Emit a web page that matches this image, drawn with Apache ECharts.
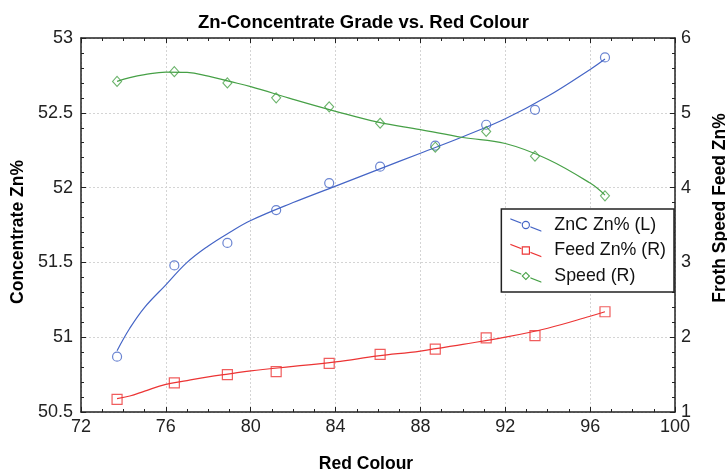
<!DOCTYPE html>
<html>
<head>
<meta charset="utf-8">
<script src="https://cdn.jsdelivr.net/npm/echarts@6/dist/echarts.min.js"></script>
<style>html,body{margin:0;padding:0;background:#fff}#c{width:727px;height:473px}</style>
</head>
<body>
<div id="c"></div>
<script>
// Measured points
const redColour = [73.7, 76.4, 78.9, 81.2, 83.7, 86.1, 88.7, 91.1, 93.4, 96.7];
const zncZn = [50.87, 51.48, 51.63, 51.85, 52.03, 52.14, 52.28, 52.42, 52.52, 52.87];
const feedZn = [1.17, 1.39, 1.50, 1.54, 1.65, 1.77, 1.84, 1.99, 2.02, 2.34];
const speed = [5.42, 5.55, 5.40, 5.20, 5.08, 4.86, 4.54, 4.75, 4.42, 3.89];
// Fitted curves
const fitX = [73.7, 74.3, 75, 76, 77, 78, 79, 80, 82, 84, 86, 88, 90, 92, 94, 96, 96.7];
const zncFit = [50.91, 51.06, 51.20, 51.35, 51.50, 51.61, 51.70, 51.78, 51.90, 52.01, 52.12, 52.23, 52.34, 52.46, 52.61, 52.79, 52.86];
const feedFit = [1.18, 1.214, 1.28, 1.37, 1.42, 1.47, 1.51, 1.55, 1.61, 1.67, 1.75, 1.815, 1.905, 2.00, 2.12, 2.28, 2.34];
const speedFit = [5.42, 5.47, 5.51, 5.545, 5.54, 5.49, 5.42, 5.35, 5.18, 5.02, 4.875, 4.775, 4.67, 4.59, 4.38, 4.06, 3.90];
const seriesNames = ['ZnC Zn% (L)', 'Feed Zn% (R)', 'Speed (R)'];
const chartTitle = 'Zn-Concentrate Grade vs. Red Colour';
const xName = 'Red Colour';
const yLeftName = 'Concentrate Zn%';
const yRightName = 'Froth Speed Feed Zn%';

const BLUE = '#4565c6', RED = '#ec3434', GREEN = '#46a046';
const FONT = '"Liberation Sans", Arial, sans-serif';

function pairs(xs, ys) { return xs.map((x, i) => [x, ys[i]]); }

const band = 'M0,0 L10.6,4.24 L10.6,5.44 L0,1.2 Z M19.4,7.76 L30,12 L30,13.2 L19.4,8.96 Z ';
const iconCircle = 'path://' + band + 'M19,6.6 A4,4 0 1,0 11,6.6 A4,4 0 1,0 19,6.6 Z M17.9,6.6 A2.9,2.9 0 1,1 12.1,6.6 A2.9,2.9 0 1,1 17.9,6.6 Z';
const iconSquare = 'path://' + band + 'M11,2.6 L19,2.6 L19,10.6 L11,10.6 Z M12.1,3.7 L12.1,9.5 L17.9,9.5 L17.9,3.7 Z';
const iconDiamond = 'path://' + band + 'M15,2.4 L19.2,6.6 L15,10.8 L10.8,6.6 Z M15,3.9 L12.3,6.6 L15,9.3 L17.7,6.6 Z';

const chart = echarts.init(document.getElementById('c'), null, {renderer: 'canvas'});

const axisLineStyle = {color: '#222', width: 1.5};
const xBase = {
  type: 'value', min: 72, max: 100, interval: 4,
  axisLine: {show: true, onZero: false, lineStyle: axisLineStyle},
  axisTick: {show: true, inside: true, length: 5, lineStyle: {color: '#222'}},
  minorTick: {show: true, splitNumber: 4, length: 3, lineStyle: {color: '#222'}},
};

chart.setOption({
  animation: false,
  backgroundColor: '#fff',
  textStyle: {fontFamily: FONT},
  title: {
    text: chartTitle, left: 'center', top: 8,
    textStyle: {fontFamily: FONT, fontSize: 18.5, fontWeight: 'bold', color: '#000'}
  },
  grid: {left: 81, right: 52, top: 38, bottom: 61, containLabel: false, outerBoundsMode: 'none'},
  legend: {
    orient: 'vertical', right: 53, top: 209,
    padding: [7, 8, 7, 9],
    itemGap: 7.5, itemWidth: 31, itemHeight: 14,
    backgroundColor: '#fff', borderColor: '#222', borderWidth: 1.5, borderRadius: 0,
    textStyle: {fontFamily: FONT, fontSize: 17.8, color: '#111', padding: [0, 0, 0, 8]},
    data: [
      {name: seriesNames[0], icon: iconCircle, itemStyle: {color: BLUE, borderWidth: 0}},
      {name: seriesNames[1], icon: iconSquare, itemStyle: {color: RED, borderWidth: 0}},
      {name: seriesNames[2], icon: iconDiamond, itemStyle: {color: GREEN, borderWidth: 0}}
    ]
  },
  xAxis: [
    Object.assign({}, xBase, {
      position: 'bottom',
      name: xName, nameLocation: 'middle', nameGap: 43,
      nameTextStyle: {fontFamily: FONT, fontSize: 17.5, fontWeight: 'bold', color: '#000', padding: [0, 24, 0, 0]},
      axisLabel: {fontFamily: FONT, fontSize: 18, color: '#222', margin: 6},
      splitLine: {show: true, lineStyle: {color: '#d4d4d4', type: [2, 2], width: 1}}
    }),
    Object.assign({}, xBase, {
      position: 'top',
      axisLabel: {show: false},
      splitLine: {show: false}
    })
  ],
  yAxis: [
    {
      type: 'value', min: 50.5, max: 53, interval: 0.5, position: 'left',
      name: yLeftName, nameLocation: 'middle', nameGap: 48, nameRotate: 90,
      nameTextStyle: {fontFamily: FONT, fontSize: 17.5, fontWeight: 'bold', color: '#000', padding: [0, 14, 0, 0]},
      axisLine: {show: true, lineStyle: axisLineStyle},
      axisTick: {show: true, inside: true, length: 5, lineStyle: {color: '#222'}},
      minorTick: {show: true, splitNumber: 5, length: 3, lineStyle: {color: '#222'}},
      axisLabel: {fontFamily: FONT, fontSize: 18, color: '#222', margin: 8},
      splitLine: {show: true, lineStyle: {color: '#d4d4d4', type: [2, 2], width: 1}}
    },
    {
      type: 'value', min: 1, max: 6, interval: 1, position: 'right',
      name: yRightName, nameLocation: 'middle', nameGap: 36, nameRotate: 90,
      nameTextStyle: {fontFamily: FONT, fontSize: 17.5, fontWeight: 'bold', color: '#000', padding: [0, 0, 0, 34]},
      axisLine: {show: true, lineStyle: axisLineStyle},
      axisTick: {show: true, inside: true, length: 5, lineStyle: {color: '#222'}},
      minorTick: {show: true, splitNumber: 5, length: 3, lineStyle: {color: '#222'}},
      axisLabel: {fontFamily: FONT, fontSize: 18, color: '#222', margin: 6},
      splitLine: {show: false}
    }
  ],
  series: [
    {name: seriesNames[0], type: 'line', yAxisIndex: 0, smooth: 0.4, showSymbol: false, symbol: 'none',
     lineStyle: {color: BLUE, width: 1.2}, itemStyle: {color: BLUE}, data: pairs(fitX, zncFit), z: 2},
    {name: seriesNames[1], type: 'line', yAxisIndex: 1, smooth: 0.4, showSymbol: false, symbol: 'none',
     lineStyle: {color: RED, width: 1.2}, itemStyle: {color: RED}, data: pairs(fitX, feedFit), z: 2},
    {name: seriesNames[2], type: 'line', yAxisIndex: 1, smooth: 0.4, showSymbol: false, symbol: 'none',
     lineStyle: {color: GREEN, width: 1.2}, itemStyle: {color: GREEN}, data: pairs(fitX, speedFit), z: 2},
    {name: seriesNames[0], type: 'scatter', yAxisIndex: 0, symbol: 'circle', symbolSize: 9,
     itemStyle: {color: 'rgba(255,255,255,0)', borderColor: BLUE, borderWidth: 1.2}, data: pairs(redColour, zncZn), z: 3},
    {name: seriesNames[1], type: 'scatter', yAxisIndex: 1, symbol: 'rect', symbolSize: 10,
     itemStyle: {color: 'rgba(255,255,255,0)', borderColor: RED, borderWidth: 1.2}, data: pairs(redColour, feedZn), z: 3},
    {name: seriesNames[2], type: 'scatter', yAxisIndex: 1, symbol: 'diamond', symbolSize: [9, 10],
     itemStyle: {color: 'rgba(255,255,255,0)', borderColor: GREEN, borderWidth: 1.1}, data: pairs(redColour, speed), z: 3}
  ]
});
</script>
</body>
</html>
